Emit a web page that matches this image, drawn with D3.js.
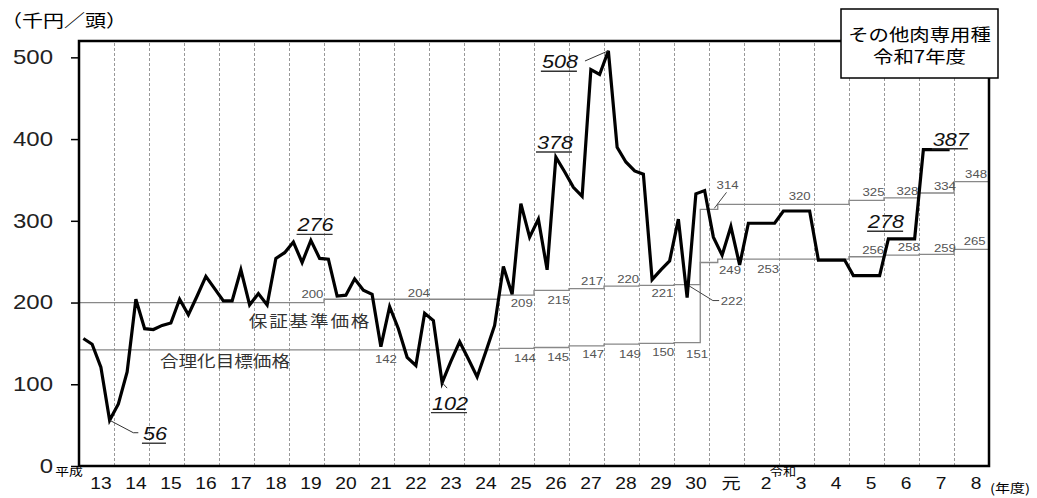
<!DOCTYPE html>
<html>
<head>
<meta charset="utf-8">
<script src="https://cdn.jsdelivr.net/npm/d3@7"></script>
<style>
body { margin: 0; background: #fff; }
svg { display: block; font-family: "Liberation Sans", Arial, "Noto Sans CJK JP", sans-serif; }
.jp { font-family: "Noto Sans CJK JP", sans-serif; }
</style>
</head>
<body>
<svg id="chart" width="1037" height="498"></svg>
<script>
// 年度 (平成13 ～ 令和8)
var yearLabels = ['13', '14', '15', '16', '17', '18', '19', '20', '21', '22', '23', '24', '25',
    '26', '27', '28', '29', '30', '元', '2', '3', '4', '5', '6', '7', '8'];
// 四半期ごとの平均売買価格 (千円/頭)
var prices = [
    156, 149, 121, 56,   76, 115, 204, 168,   167, 172, 175, 204,   185, 208, 232, 217,
    202, 202, 240, 197,  211, 197, 254, 261,  274, 249, 276, 254,   253, 208, 209, 229,
    215, 210, 146, 195,  168, 133, 123, 187,  178, 102, 128, 152,   131, 109, 140, 172,
    244, 210, 321, 280,  302, 240, 378, 360,  341, 330, 485, 479,   508, 390, 372, 361,
    357, 228, 240, 251,  302, 206, 333, 337,  280, 258, 293, 246,   297, 297, 297, 297,
    312, 312, 312, 312,  252, 252, 252, 252,  233, 233, 233, 233,   278, 278, 278, 278,
    387, 387, 387, 387
];
// 保証基準価格 (開始年度位置と値)
var guaranteeStarts = [0, 7, 12, 13, 14, 15, 16, 17, 17.75, 18.25, 22, 23, 24, 25];
var guaranteeValues = [200, 204, 209, 215, 217, 220, 221, 222, 314, 320, 325, 328, 334, 348];
// 合理化目標価格
var targetStarts = [0, 12, 13, 14, 15, 16, 17, 17.75, 18.25, 22, 23, 24, 25];
var targetValues = [142, 144, 145, 147, 149, 150, 151, 249, 253, 256, 258, 259, 265];
// 強調表示する値
var peakIndex = [3, 41, 26, 54, 60, 92, 96];
var yTicks = [0, 100, 200, 300, 400, 500];

// ---- 配置 (レイアウト) ----
var guaranteeLabelAt = [6.67, 9.71, 12.65, 13.70, 14.66, 15.69, 16.67, 18.65, 18.53, 20.59, 22.70, 23.67, 24.74, 25.63];
var guaranteeLabelDy = [-5, -2, 12, 14, -4, -3, 12, 20, -20, -4, -4, -3, -3, -4];
var targetLabelAt = [8.77, 12.74, 13.69, 14.69, 15.74, 16.69, 17.66, 18.60, 19.69, 22.69, 23.71, 24.74, 25.59];
var targetLabelDy = [13, 14, 14, 12, 14, 13, 15, 12, 14, -3, -4, -2, -4];
var peakLabelAt = [2.17, 10.6, 6.76, 13.6, 13.74, 23.06, 24.91];
var peakLabelDy = [20, 27, -9, -8, 17.5, -10.6, -4];
var peakLeaders = {0: [[0, 0], [23.7, 12.5], [28.7, 12.5]], 1: [[0, 0], [5, 5.5]], 4: [[0, 0], [-23.4, 10.2]]};

var SX = 1.2; // 元画像は横に伸びている
var svg = d3.select('#chart');
var x = d3.scaleLinear().domain([0, 26]).range([79, 989]);
var y = d3.scaleLinear().domain([0, 520]).range([466, 41]);

function label(parent, px, py, str, size, anchor) {
    return parent.append('text')
        .attr('transform', 'translate(' + px + ',' + py + ') scale(' + SX + ',1)')
        .attr('text-anchor', anchor || 'middle')
        .style('font-size', size + 'px')
        .text(str);
}

// 年度区切りの点線
svg.append('g')
    .attr('transform', 'translate(0,466)')
    .call(d3.axisBottom(x).tickValues(d3.range(1, 26)).tickSize(-(466 - 41)).tickFormat(''))
    .call(function (g) { g.select('.domain').remove(); })
    .selectAll('line')
    .attr('stroke', '#999').attr('stroke-width', 1).attr('stroke-dasharray', '3,2');

// 保証基準価格・合理化目標価格の階段線
var stepLine = d3.line().x(function (d) { return x(d[0]); }).y(function (d) { return y(d[1]); })
    .curve(d3.curveStepAfter);
function stepPoints(starts, values) {
    var pts = starts.map(function (s, i) { return [s, values[i]]; });
    pts.push([26, values[values.length - 1]]);
    return pts;
}
[[guaranteeStarts, guaranteeValues], [targetStarts, targetValues]].forEach(function (s) {
    svg.append('path')
        .attr('d', stepLine(stepPoints(s[0], s[1])))
        .attr('fill', 'none').attr('stroke', '#888').attr('stroke-width', 1.3);
});

var lab = svg.append('g').attr('fill', '#555');
guaranteeValues.forEach(function (v, i) {
    label(lab, x(guaranteeLabelAt[i]), y(v) + guaranteeLabelDy[i], v, 11);
});
targetValues.forEach(function (v, i) {
    label(lab, x(targetLabelAt[i]), y(v) + targetLabelDy[i], v, 11);
});
// 222, 314 の引出線
var leader = d3.line();
svg.append('path')
    .attr('d', leader([[x(17.37), y(222)], [x(18.11), y(222) + 16], [x(18.29), y(222) + 16]]))
    .attr('fill', 'none').attr('stroke', '#444').attr('stroke-width', 1);
svg.append('path')
    .attr('d', leader([[x(18.15), y(314) - 1], [x(18.50), y(314) - 17]]))
    .attr('fill', 'none').attr('stroke', '#444').attr('stroke-width', 1);

label(svg, x(6.6), y(200) + 24, '保証基準価格', 15.5).attr('class', 'jp').attr('fill', '#333')
    .style('letter-spacing', '1.5px');
label(svg, x(4.17), y(142) + 17, '合理化目標価格', 15.5).attr('class', 'jp').attr('fill', '#333');

// 価格の折れ線
var priceLine = d3.line()
    .x(function (d, i) { return x(i / 4 + 0.125); })
    .y(function (d) { return y(d); });
svg.append('path')
    .attr('d', priceLine(prices))
    .attr('fill', 'none').attr('stroke', '#000').attr('stroke-width', 3.2)
    .attr('stroke-linejoin', 'miter');

// 強調値 (斜体・下線)
peakIndex.forEach(function (pi, k) {
    var v = prices[pi];
    var px = x(pi / 4 + 0.125), py = y(v);
    var tx = x(peakLabelAt[k]), ty = py + peakLabelDy[k];
    var t = label(svg, tx, ty, v, 18).style('font-style', 'italic').attr('fill', '#111');
    var w = t.node().getComputedTextLength() * SX;
    svg.append('line')
        .attr('x1', tx - w / 2 - 1).attr('x2', tx + w / 2 - 1)
        .attr('y1', ty + 3).attr('y2', ty + 3)
        .attr('stroke', '#333').attr('stroke-width', 1.4);
    if (peakLeaders[k]) {
        svg.append('path')
            .attr('d', leader(peakLeaders[k].map(function (p) { return [px + p[0], py + p[1]]; })))
            .attr('fill', 'none').attr('stroke', '#333').attr('stroke-width', 1);
    }
});

// 枠
svg.append('path')
    .attr('d', 'M' + x(0) + ',' + y(520) + 'H' + x(26) + 'V' + y(0) + 'H' + x(0) + 'Z')
    .attr('fill', 'none').attr('stroke', '#000').attr('stroke-width', 2.5);

// y軸
svg.append('g')
    .attr('transform', 'translate(79,0)')
    .call(d3.axisLeft(y).tickValues(yTicks).tickSize(8).tickPadding(18))
    .call(function (g) { g.select('.domain').remove(); })
    .call(function (g) { g.selectAll('line').attr('stroke', '#000').attr('stroke-width', 1.5); })
    .call(function (g) {
        g.selectAll('text')
            .attr('x', -26 / SX)
            .attr('transform', 'scale(' + SX + ',1)')
            .attr('fill', '#222')
            .style('font-size', '20px')
            .style('font-family', '"Liberation Sans", Arial, sans-serif');
    });

// x軸 (年度)
svg.append('g')
    .attr('transform', 'translate(4,466)')
    .call(d3.axisBottom(x)
        .tickValues(d3.range(yearLabels.length).map(function (i) { return i + 0.5; }))
        .tickFormat(function (d, i) { return yearLabels[i]; })
        .tickSize(0).tickPadding(11.6))
    .call(function (g) { g.select('.domain').remove(); })
    .call(function (g) {
        g.selectAll('text')
            .attr('transform', 'scale(' + SX + ',1)')
            .attr('fill', '#111')
            .style('font-size', '16px')
            .style('font-family', '"Liberation Sans", Arial, "Noto Sans CJK JP", sans-serif');
    });

label(svg, 69, 476, '平成', 11.5).attr('class', 'jp');
label(svg, 783, 475.5, '令和', 11).attr('class', 'jp');
label(svg, 990, 493, '(年度)', 12.5, 'start').attr('class', 'jp');
label(svg, 1, 26.5, '（千円／頭）', 17.5, 'start').attr('class', 'jp');

// タイトル枠
svg.append('rect')
    .attr('x', 841).attr('y', 9).attr('width', 157).attr('height', 69)
    .attr('fill', '#fff').attr('stroke', '#000').attr('stroke-width', 1.5);
label(svg, 919.5, 41, 'その他肉専用種', 17).attr('class', 'jp');
label(svg, 919.5, 63, '令和7年度', 17).attr('class', 'jp');
</script>
</body>
</html>
